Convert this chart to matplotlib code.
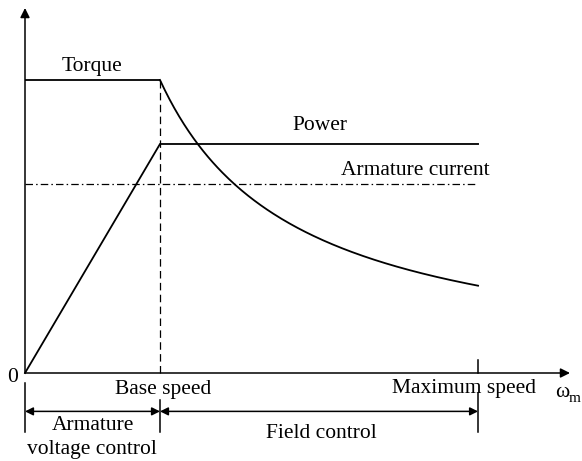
import numpy as np
import matplotlib
matplotlib.use("Agg")
import matplotlib.pyplot as plt

# Per-unit speed points (base speed = 1)
base_speed = 1.0
max_speed = 3.356
speed_const_torque = [0.0, base_speed]
speed_field = np.linspace(base_speed, max_speed, 200)

# Per-unit levels
rated_torque = 1.0
rated_power = 0.7816
armature_current = 0.645
current_end = 3.33

# Constant torque up to base speed; constant power (torque ~ 1/speed) beyond it
torque_const = [rated_torque, rated_torque]
torque_field = rated_torque * base_speed / speed_field
power_speed = [0.0, base_speed, max_speed]
power_vals = [0.0, rated_power, rated_power]

FONT = "Liberation Serif"
FS = 15.5
LW = 1.3

fig = plt.figure(figsize=(5.82, 4.61), dpi=100)
ax = fig.add_axes([0, 0, 1, 1])
ax.set_xlim(-25 / 135, 557 / 135)
ax.set_ylim(-88 / 293, 373 / 293)
ax.axis("off")

arrow = dict(arrowstyle="-|>", color="black", lw=1.1, mutation_scale=14,
             shrinkA=0, shrinkB=0)
# axes
ax.annotate("", xy=(0, 1.2457), xytext=(0, 0), arrowprops=arrow)
ax.annotate("", xy=(4.037, 0), xytext=(0, 0), arrowprops=arrow)

# curves
ax.plot(speed_const_torque, torque_const, color="black", lw=LW, solid_capstyle="butt")
ax.plot(speed_field, torque_field, color="black", lw=LW)
ax.plot(power_speed, power_vals, color="black", lw=LW, solid_joinstyle="miter")
ax.plot([0, current_end], [armature_current, armature_current], color="black",
        lw=0.9, linestyle=(0, (6, 2.5, 1.2, 2.5)))
ax.plot([base_speed, base_speed], [0, rated_torque], color="black", lw=0.9,
        linestyle=(0, (6, 3.5)))
ax.plot([max_speed, max_speed], [0, 0.044], color="black", lw=1.1)

# region markers below the axis
ax.plot([0, 0], [-0.034, -0.20], color="black", lw=1.1)
ax.plot([base_speed, base_speed], [-0.092, -0.20], color="black", lw=1.1)
ax.plot([max_speed, max_speed], [-0.068, -0.20], color="black", lw=1.1)
darrow = dict(arrowstyle="<|-|>", color="black", lw=1.1, mutation_scale=12,
              shrinkA=0, shrinkB=0)
ax.annotate("", xy=(base_speed, -0.131), xytext=(0, -0.131), arrowprops=darrow)
ax.annotate("", xy=(max_speed, -0.131), xytext=(base_speed, -0.131), arrowprops=darrow)

txt = dict(family=FONT, fontsize=FS, ha="center", va="baseline")
ax.text(0.496, 1.0307, "Torque", **txt)
ax.text(2.185, 0.8294, "Power", **txt)
ax.text(2.889, 0.6758, "Armature current", **txt)
ax.text(-0.089, -0.0307, "0", **txt)
ax.text(1.022, -0.0717, "Base speed", **txt)
ax.text(3.252, -0.0680, "Maximum speed", **txt)
ax.text(3.978, -0.0819, "ω", **txt)
ax.text(4.074, -0.0990, "m", family=FONT, fontsize=11, ha="center", va="baseline")
ax.text(0.504, -0.1945, "Armature", **txt)
ax.text(0.496, -0.2765, "voltage control", **txt)
ax.text(2.193, -0.2218, "Field control", **txt)

fig.savefig("out.png", dpi=100)
